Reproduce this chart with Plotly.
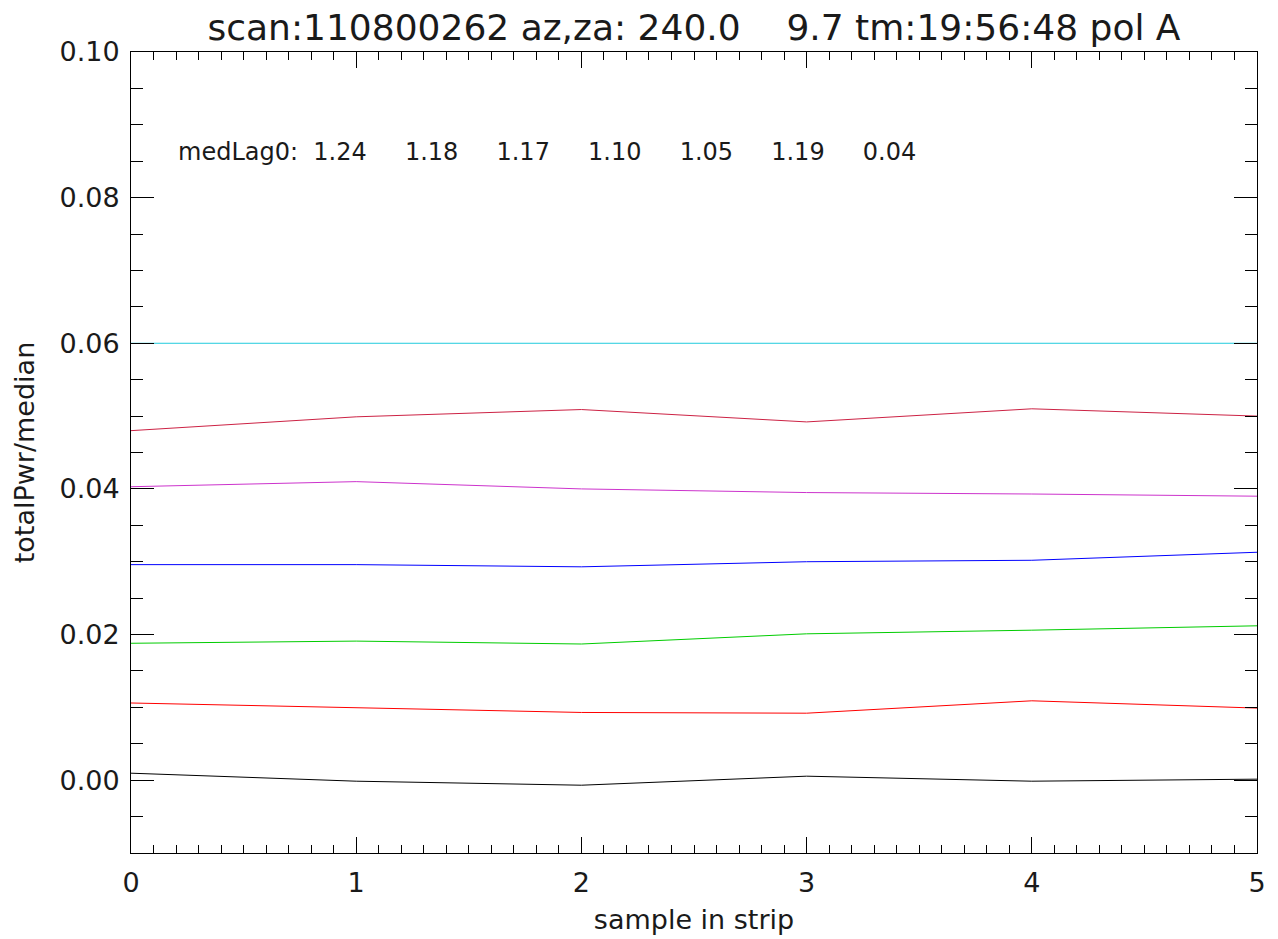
import plotly.graph_objects as go

sample = [0, 1, 2, 3, 4, 5]
series_names = ["s0", "s1", "s2", "s3", "s4", "s5", "s6"]
series_colors = ["#000000", "#ff0000", "#00cc00", "#0000ff", "#cc33cc", "#cc2244", "#22ccdd"]
s0 = [0.00096, -0.00014, -0.00069, 0.00055, -0.00014, 0.00014]
s1 = [0.0106, 0.0100, 0.0093, 0.0092, 0.0109, 0.0099]
s2 = [0.0188, 0.0191, 0.0187, 0.0201, 0.0206, 0.0212]
s3 = [0.0296, 0.0296, 0.0293, 0.0300, 0.0302, 0.0313]
s4 = [0.0403, 0.0410, 0.0400, 0.0395, 0.0393, 0.0390]
s5 = [0.0480, 0.0499, 0.0509, 0.0492, 0.0510, 0.0500]
s6 = [0.0600, 0.0600, 0.0600, 0.0600, 0.0600, 0.0600]
series_values = [s0, s1, s2, s3, s4, s5, s6]

med_lag0 = ["1.24", "1.18", "1.17", "1.10", "1.05", "1.19", "0.04"]
title_text = "scan:110800262 az,za: 240.0    9.7 tm:19:56:48 pol A"
x_title = "sample in strip"
y_title = "totalPwr/median"

NB = "\u00a0"
FONT = "DejaVu Sans"
TXT = "#1a1a1a"

W, H = 1270, 931
L, R, T, B = 123, 21, 44, 86

fig = go.Figure()
for name, vals, col in zip(series_names, series_values, series_colors):
    fig.add_trace(go.Scatter(x=sample, y=vals, mode="lines", name=name,
                             line=dict(color=col, width=1), showlegend=False,
                             hoverinfo="skip"))

ann_text = "medLag0:" + NB * 2 + (NB * 5).join(med_lag0)

fig.add_annotation(text=ann_text, xref="paper", yref="paper",
                   x=(176 - 131) / (1257 - 131), y=(853 - 152) / (853 - 52),
                   xanchor="left", yanchor="middle", showarrow=False,
                   font=dict(family=FONT, size=24, color=TXT))

axis_common = dict(showgrid=False, zeroline=False, showline=True,
                   linecolor="#000000", linewidth=1, mirror="allticks",
                   ticks="inside", tickcolor="#000000", tickwidth=1,
                   tickfont=dict(family=FONT, size=27, color=TXT))

fig.update_xaxes(range=[0, 5], dtick=1, tick0=0, ticklen=16,
                 minor=dict(dtick=0.1, ticklen=8, ticks="inside", tickcolor="#000000"),
                 title=dict(text=x_title, font=dict(family=FONT, size=27, color=TXT),
                            standoff=12),
                 ticklabelstandoff=6,
                 **axis_common)
fig.update_yaxes(range=[-0.01, 0.10], dtick=0.02, tick0=0, ticklen=23,
                 tickformat=".2f",
                 minor=dict(dtick=0.005, ticklen=12, ticks="inside", tickcolor="#000000"),
                 title=dict(text=y_title, font=dict(family=FONT, size=27, color=TXT),
                            standoff=17),
                 ticklabelstandoff=5,
                 **axis_common)

fig.update_layout(
    width=W, height=H,
    margin=dict(l=L, r=R, t=T, b=B, autoexpand=False),
    paper_bgcolor="#ffffff", plot_bgcolor="#ffffff",
    title=dict(text=title_text.replace(" ", NB), x=686 / W, xanchor="center",
               y=1 - 19 / H, yanchor="middle", yref="container",
               font=dict(family=FONT, size=36, color=TXT)),
)

fig.write_html("out.html")
